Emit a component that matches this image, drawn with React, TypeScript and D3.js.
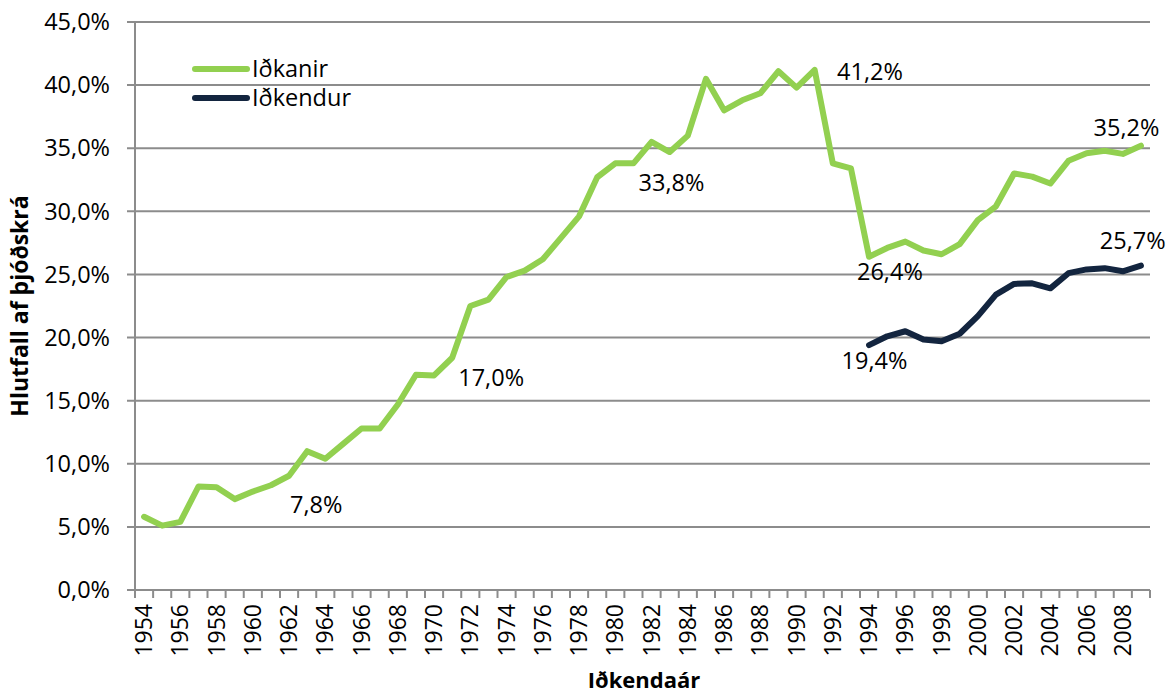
import React, { useEffect, useRef } from "react";
import * as d3 from "d3";

const years: number[] = d3.range(1954, 2010);

// Iðkanir, % af þjóðskrá, 1954–2009
const idkanir: number[] = [
  5.8, 5.1, 5.4, 8.2, 8.15, 7.2, 7.8, 8.3, 9.05, 11.0,
  10.4, 11.6, 12.8, 12.8, 14.7, 17.05, 17.0, 18.4, 22.5, 23.0,
  24.8, 25.3, 26.2, 27.9, 29.6, 32.7, 33.8, 33.8, 35.5, 34.7,
  36.0, 40.5, 38.0, 38.8, 39.35, 41.1, 39.8, 41.2, 33.8, 33.4,
  26.4, 27.1, 27.6, 26.9, 26.6, 27.4, 29.3, 30.4, 33.0, 32.75,
  32.2, 34.0, 34.6, 34.8, 34.55, 35.2,
];

// Iðkendur, frá 1994
const idkendurYears: number[] = d3.range(1994, 2010);
const idkendur: number[] = [
  19.4, 20.1, 20.5, 19.85, 19.7, 20.3, 21.7, 23.4, 24.25, 24.3,
  23.9, 25.1, 25.4, 25.5, 25.25, 25.7,
];

const yTicks: number[] = [0, 5, 10, 15, 20, 25, 30, 35, 40, 45];

// data labels: text, anchor year, anchor value
const labelTexts: string[] = ["7,8%", "17,0%", "33,8%", "41,2%", "26,4%", "35,2%", "19,4%", "25,7%"];
const labelYears: number[] = [1963.5, 1973.15, 1983.1, 1994.05, 1995.15, 2008.2, 1994.3, 2008.55];
const labelValues: number[] = [6.75, 16.8, 32.3, 41.05, 25.2, 36.6, 18.15, 27.65];

const seriesNames: string[] = ["Iðkanir", "Iðkendur"];
const seriesColors: string[] = ["#92d050", "#13253f"];

const fmt = (v: number) => v.toFixed(1).replace(".", ",") + "%";

const App: React.FC = () => {
  const svgRef = useRef<SVGSVGElement>(null);

  useEffect(() => {
    if (!svgRef.current) return;
    const width = 1176;
    const height = 695;
    const margin = { top: 22, right: 26, bottom: 105, left: 135 };
    const font = "'Open Sans', 'Noto Sans', sans-serif";
    const fs = "23.5px";

    const svg = d3.select(svgRef.current);
    svg.selectAll("*").remove();
    svg.attr("width", width).attr("height", height);

    const innerW = width - margin.left - margin.right;
    const innerH = height - margin.top - margin.bottom;

    const g = svg
      .append("g")
      .attr("transform", `translate(${margin.left},${margin.top})`);

    const x = d3
      .scaleBand<number>()
      .domain(years)
      .range([0, innerW])
      .padding(0);
    const half = x.bandwidth() / 2;
    const xc = (yr: number) => (x(yr) as number) + half;

    const xl = d3
      .scaleLinear()
      .domain([1954, 2009])
      .range([xc(1954), xc(2009)]);

    const y = d3.scaleLinear().domain([0, 45]).range([innerH, 0]);

    // gridlines
    g.selectAll(".grid")
      .data(yTicks)
      .enter()
      .append("line")
      .attr("x1", -8)
      .attr("x2", innerW)
      .attr("y1", (d) => y(d))
      .attr("y2", (d) => y(d))
      .attr("stroke", "#8c8c8c")
      .attr("stroke-width", 2);

    // y tick labels
    g.selectAll(".ylab")
      .data(yTicks)
      .enter()
      .append("text")
      .attr("x", -25)
      .attr("y", (d) => y(d))
      .attr("dy", "0.35em")
      .attr("text-anchor", "end")
      .style("font-family", font)
      .style("font-size", fs)
      .style("fill", "#000")
      .text((d) => fmt(d));

    // y axis line
    g.append("line")
      .attr("x1", 0)
      .attr("x2", 0)
      .attr("y1", 0)
      .attr("y2", innerH)
      .attr("stroke", "#8c8c8c")
      .attr("stroke-width", 2);

    // x ticks between categories
    const bounds = years.map((yr) => x(yr) as number).concat([innerW]);
    g.selectAll(".xtick")
      .data(bounds)
      .enter()
      .append("line")
      .attr("x1", (d) => d)
      .attr("x2", (d) => d)
      .attr("y1", innerH)
      .attr("y2", innerH + 8)
      .attr("stroke", "#8c8c8c")
      .attr("stroke-width", 2);

    // x labels every second year
    g.selectAll(".xlab")
      .data(years.filter((yr) => yr % 2 === 0))
      .enter()
      .append("text")
      .attr(
        "transform",
        (d) => `translate(${xc(d)},${innerH + 14}) rotate(-90)`,
      )
      .attr("text-anchor", "end")
      .attr("dy", "0.35em")
      .style("font-family", font)
      .style("font-size", "23px")
      .style("fill", "#000")
      .text((d) => String(d));

    const line = d3
      .line<[number, number]>()
      .x((d) => xc(d[0]))
      .y((d) => y(d[1]));

    g.append("path")
      .datum(years.map((yr, i) => [yr, idkanir[i]] as [number, number]))
      .attr("d", line)
      .attr("fill", "none")
      .attr("stroke", seriesColors[0])
      .attr("stroke-width", 6)
      .attr("stroke-linejoin", "round")
      .attr("stroke-linecap", "round");

    g.append("path")
      .datum(
        idkendurYears.map((yr, i) => [yr, idkendur[i]] as [number, number]),
      )
      .attr("d", line)
      .attr("fill", "none")
      .attr("stroke", seriesColors[1])
      .attr("stroke-width", 6)
      .attr("stroke-linejoin", "round")
      .attr("stroke-linecap", "round");

    // data labels
    g.selectAll(".dlab")
      .data(labelTexts)
      .enter()
      .append("text")
      .attr("x", (_, i) => xl(labelYears[i]))
      .attr("y", (_, i) => y(labelValues[i]))
      .attr("dy", "0.35em")
      .attr("text-anchor", "middle")
      .style("font-family", font)
      .style("font-size", fs)
      .style("fill", "#000")
      .text((d) => d);

    // legend
    const legend = g.append("g").attr("transform", "translate(60,47)");
    seriesNames.forEach((name, i) => {
      const row = legend.append("g").attr("transform", `translate(0,${i * 29})`);
      row
        .append("line")
        .attr("x1", 0)
        .attr("x2", 52)
        .attr("y1", 0)
        .attr("y2", 0)
        .attr("stroke", seriesColors[i])
        .attr("stroke-width", 6)
        .attr("stroke-linecap", "round");
      row
        .append("text")
        .attr("x", 57)
        .attr("y", 0)
        .attr("dy", "0.35em")
        .style("font-family", font)
        .style("font-size", fs)
        .style("fill", "#000")
        .text(name);
    });

    // axis titles
    svg
      .append("text")
      .attr("x", 644)
      .attr("y", 688)
      .attr("text-anchor", "middle")
      .style("font-family", font)
      .style("font-size", "22px")
      .style("font-weight", "bold")
      .text("Iðkendaár");

    svg
      .append("text")
      .attr("transform", `translate(20,${margin.top + innerH / 2}) rotate(-90)`)
      .attr("dy", "0.35em")
      .attr("text-anchor", "middle")
      .style("font-family", font)
      .style("font-size", "23px")
      .style("font-weight", "bold")
      .text("Hlutfall af þjóðskrá");
  }, []);

  return (
    <div style={{ position: "absolute", left: 0, top: 0, background: "#fff" }}>
      <svg ref={svgRef}></svg>
    </div>
  );
};

export default App;
